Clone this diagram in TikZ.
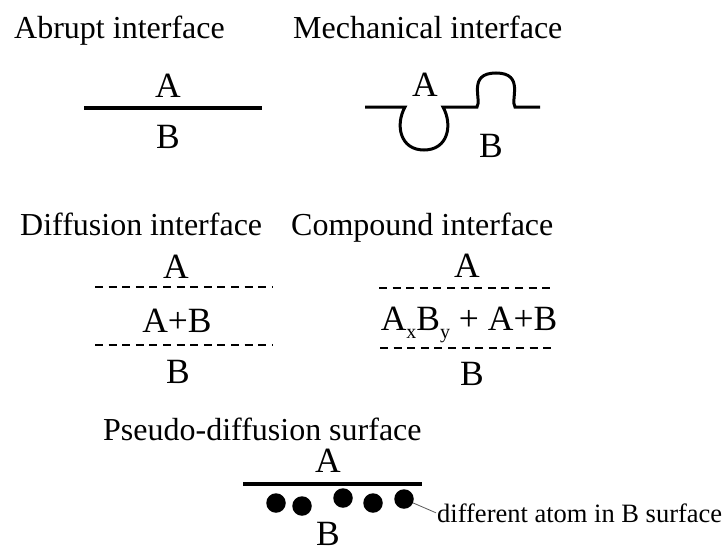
\documentclass[tikz,border=0pt]{standalone}
\usepackage{fontspec}
\setmainfont{Liberation Serif}
\usepackage{tikz}
\tikzset{
  ttl/.style={anchor=base west,inner sep=0pt,font=\fontsize{32}{36}\selectfont},
  lbl/.style={anchor=base,inner sep=0pt,font=\fontsize{35.5}{38}\selectfont},
  sol/.style={line width=3.5pt},
  dsh/.style={line width=2.8pt,dash pattern=on 8pt off 5.6pt},
  atm/.style={circle,fill,inner sep=0pt,minimum size=19.5pt},
  ptr/.style={gray!70!black,line width=0.8pt},
  nte/.style={anchor=base west,inner sep=1pt,font=\fontsize{26.5}{30}\selectfont}
}
\newcommand{\dline}[3]{\draw[dsh] (#1,#3) -- (#2,#3);}
\newcommand{\sbs}[1]{\raisebox{-8pt}{\fontsize{20}{20}\selectfont #1}}

\begin{document}
\begin{tikzpicture}[x=1pt,y=-1pt]
\useasboundingbox (0,0) rectangle (728,554);
\node[ttl] (tab) at (14,38) {Abrupt interface};
\node[lbl] (aA) at (168,97) {A}; \node[lbl] (aB) at (168,148) {B};
\draw[sol] (84,108) -- (262,108);
\node[ttl] (tme) at (293,38) {Mechanical interface};
\node[lbl] (mA) at (425,96) {A}; \node[lbl] (mB) at (491,157) {B};
\draw[line width=3pt] (365,107) -- (405,107) .. controls (395,125) and (400,150) .. (424,150) .. controls (448,150) and (453,125) .. (443,107) -- (477,107) .. controls (482,100) and (467,73) .. (496,73) .. controls (525,73) and (510,100) .. (515,107) -- (540,107);
\node[ttl] (tdi) at (20,235) {Diffusion interface};
\node[lbl] (dA) at (176,278) {A}; \node[lbl] (dAB) at (177,332) {A+B}; \node[lbl] (dB) at (178,383) {B};
\dline{95}{272}{287} \dline{95}{272}{345}
\node[ttl] (tco) at (291,235) {Compound interface};
\node[lbl] (cA) at (467,277) {A}; \node[lbl] (cAB) at (469,330) {A\sbs{x}B\sbs{y} + A+B}; \node[lbl] (cB) at (472,385) {B};
\dline{379}{553}{288} \dline{380}{553}{348}
\node[ttl] (tps) at (103,440) {Pseudo-diffusion surface};
\node[lbl] (pA) at (328,472) {A}; \node[lbl] (pB) at (328,545) {B};
\draw[sol] (243,484) -- (422,484);
\foreach \n/\x/\y in {1/276/503,2/302/506,3/343/498,4/373/503,5/404/499}
  \node[atm] (p\n) at (\x,\y) {};
\node[nte] (note) at (436,522) {different atom in B surface};
\draw[ptr] (p5) -- (note.west);
\end{tikzpicture}
\end{document}
